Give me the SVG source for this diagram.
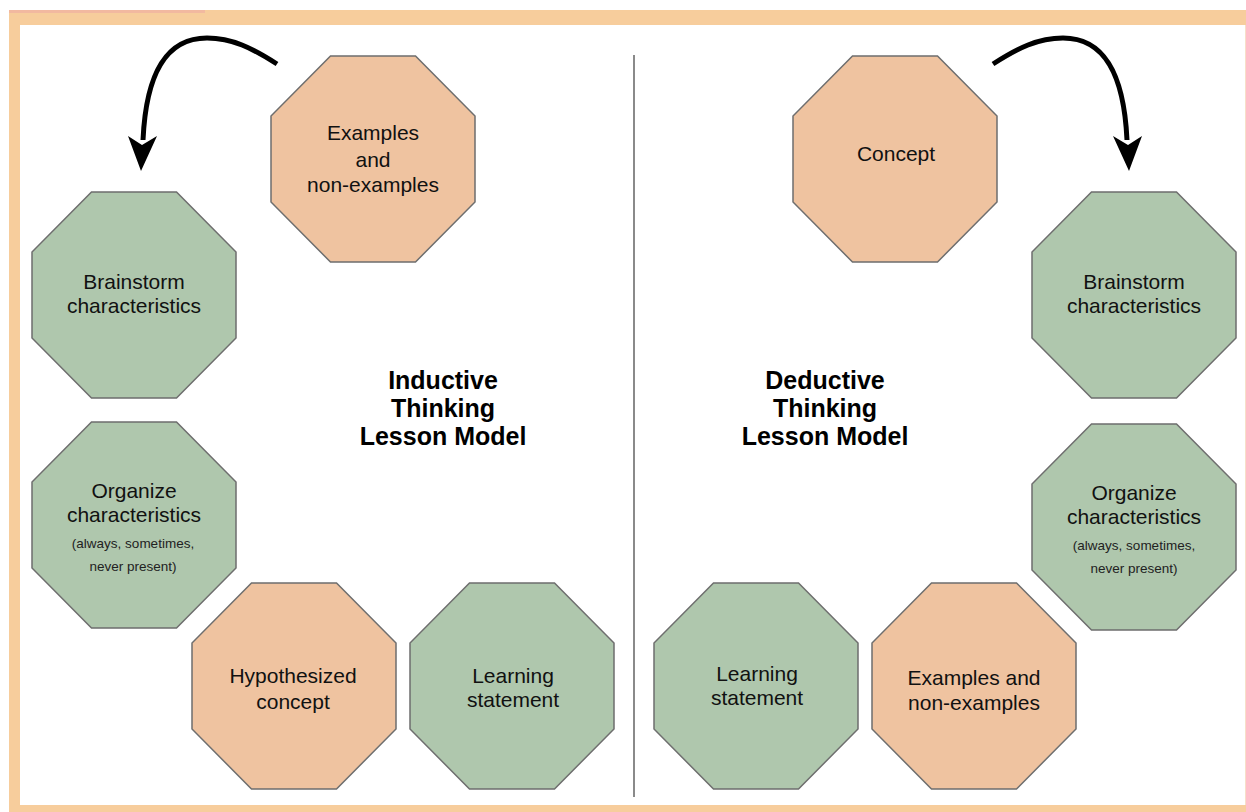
<svg xmlns="http://www.w3.org/2000/svg" width="1246" height="812" viewBox="0 0 1246 812">
  <style>
    .oct { stroke: #6e6e6e; stroke-width: 1.5; }
    .orange { fill: #EFC3A0; }
    .green { fill: #AFC7AD; }
    .t { font-family: "Liberation Sans", Arial, sans-serif; font-size: 21px; fill: #111; text-anchor: middle; }
    .s { font-family: "Liberation Sans", Arial, sans-serif; font-size: 13.5px; fill: #222; text-anchor: middle; }
    .title { font-family: "Liberation Sans", Arial, sans-serif; font-size: 25px; font-weight: bold; fill: #000; text-anchor: middle; }
    .arc { fill: none; stroke: #000; stroke-width: 5; stroke-linecap: butt; }
  </style>
  <defs>
    <polygon id="octShape" points="-42.5,-103 42.5,-103 102,-43 102,43 42.5,103 -42.5,103 -102,43 -102,-43"/>
  </defs>

  <!-- frame -->
  <rect x="0" y="0" width="1246" height="812" fill="#fff"/>
  <rect x="9" y="10" width="1237" height="802" fill="#F7CD9C"/>
  <rect x="9" y="10" width="196" height="3" fill="#F2B9A0"/>
  <rect x="20" y="25" width="1226" height="780" fill="#fff"/>
  <line x1="1245.5" y1="25" x2="1245.5" y2="805" stroke="#F7E0C8" stroke-width="1"/>

  <!-- divider -->
  <line x1="634" y1="55" x2="634" y2="797" stroke="#8a8a8a" stroke-width="2"/>

  <!-- connectors -->
  <g id="connectors">
    <path class="arc" d="M277,64 C252,48 232,38 207,38 C165,38 146,75 143,140"/>
    <path d="M128,136 L142,145 L157,136 L141,171 Z" fill="#000"/>
    <path class="arc" d="M993,64 C1018,48 1038,38 1063,38 C1105,38 1124,75 1127,140"/>
    <path d="M1142,136 L1128,145 L1113,136 L1129,171 Z" fill="#000"/>
  </g>

  <!-- inductive side -->
  <g id="ind-examples">
    <use href="#octShape" class="oct orange" transform="translate(373,159)"/>
    <text class="t" x="373" y="140">Examples</text>
    <text class="t" x="373" y="167">and</text>
    <text class="t" x="373" y="192">non-examples</text>
  </g>

  <g id="ind-brainstorm">
    <use href="#octShape" class="oct green" transform="translate(134,295)"/>
    <text class="t" x="134" y="289">Brainstorm</text>
    <text class="t" x="134" y="313">characteristics</text>
  </g>

  <g id="ind-organize">
    <use href="#octShape" class="oct green" transform="translate(134,525)"/>
    <text class="t" x="134" y="498">Organize</text>
    <text class="t" x="134" y="522">characteristics</text>
    <text class="s" x="133" y="548">(always, sometimes,</text>
    <text class="s" x="133" y="571">never present)</text>
  </g>

  <g id="ind-hypothesized">
    <use href="#octShape" class="oct orange" transform="translate(294,686)"/>
    <text class="t" x="293" y="683">Hypothesized</text>
    <text class="t" x="293" y="709">concept</text>
  </g>

  <g id="ind-learning">
    <use href="#octShape" class="oct green" transform="translate(512,686)"/>
    <text class="t" x="513" y="683">Learning</text>
    <text class="t" x="513" y="707">statement</text>
  </g>

  <g id="ind-title">
    <text class="title" x="443" y="389">Inductive</text>
    <text class="title" x="443" y="417">Thinking</text>
    <text class="title" x="443" y="445">Lesson Model</text>
  </g>

  <!-- deductive side -->
  <g id="ded-concept">
    <use href="#octShape" class="oct orange" transform="translate(895,159)"/>
    <text class="t" x="896" y="161">Concept</text>
  </g>

  <g id="ded-brainstorm">
    <use href="#octShape" class="oct green" transform="translate(1134,295)"/>
    <text class="t" x="1134" y="289">Brainstorm</text>
    <text class="t" x="1134" y="313">characteristics</text>
  </g>

  <g id="ded-organize">
    <use href="#octShape" class="oct green" transform="translate(1134,527)"/>
    <text class="t" x="1134" y="500">Organize</text>
    <text class="t" x="1134" y="524">characteristics</text>
    <text class="s" x="1134" y="550">(always, sometimes,</text>
    <text class="s" x="1134" y="573">never present)</text>
  </g>

  <g id="ded-learning">
    <use href="#octShape" class="oct green" transform="translate(756,686)"/>
    <text class="t" x="757" y="681">Learning</text>
    <text class="t" x="757" y="705">statement</text>
  </g>

  <g id="ded-examples">
    <use href="#octShape" class="oct orange" transform="translate(974,686)"/>
    <text class="t" x="974" y="685">Examples and</text>
    <text class="t" x="974" y="710">non-examples</text>
  </g>

  <g id="ded-title">
    <text class="title" x="825" y="389">Deductive</text>
    <text class="title" x="825" y="417">Thinking</text>
    <text class="title" x="825" y="445">Lesson Model</text>
  </g>
</svg>
